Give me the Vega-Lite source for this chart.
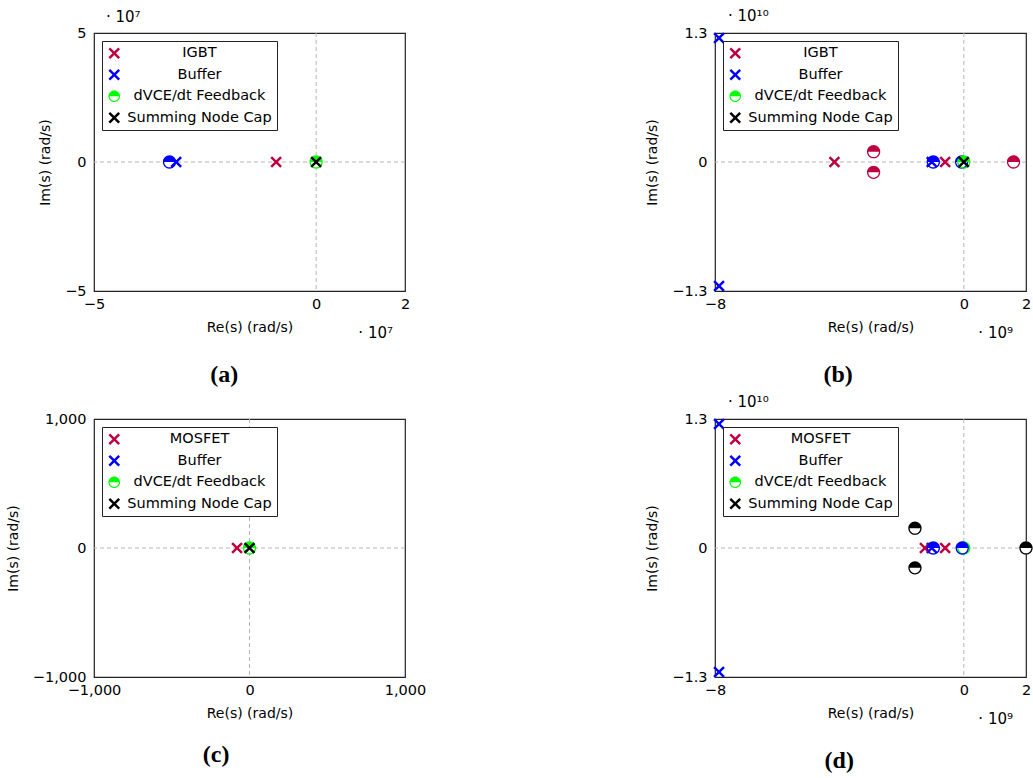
{
  "$schema": "https://vega.github.io/schema/vega-lite/v6.json",
  "background": "white",
  "padding": {"left": 5, "top": 8, "right": 5, "bottom": 5},
  "datasets": {
    "origin": [{"v": 0}],
    "pz": [
      {"panel": "a", "series": "IGBT", "kind": "pole", "re": -9.0e6, "im": 0},
      {"panel": "a", "series": "Buffer", "kind": "pole", "re": -3.15e7, "im": 0},
      {"panel": "a", "series": "Summing Node Cap", "kind": "pole", "re": 0, "im": 0},
      {"panel": "a", "series": "Buffer", "kind": "zero", "re": -3.30e7, "im": 0},
      {"panel": "a", "series": "dVCE/dt Feedback", "kind": "zero", "re": 0, "im": 0},

      {"panel": "b", "series": "Buffer", "kind": "pole", "re": -7.87e9, "im": 1.25e10},
      {"panel": "b", "series": "Buffer", "kind": "pole", "re": -7.87e9, "im": -1.25e10},
      {"panel": "b", "series": "Buffer", "kind": "pole", "re": -1.03e9, "im": 0},
      {"panel": "b", "series": "IGBT", "kind": "pole", "re": -4.16e9, "im": 0},
      {"panel": "b", "series": "IGBT", "kind": "pole", "re": -0.60e9, "im": 0},
      {"panel": "b", "series": "Summing Node Cap", "kind": "pole", "re": 0, "im": 0},
      {"panel": "b", "series": "Buffer", "kind": "zero", "re": -0.98e9, "im": 0},
      {"panel": "b", "series": "Buffer", "kind": "zero", "re": -0.07e9, "im": 0},
      {"panel": "b", "series": "dVCE/dt Feedback", "kind": "zero", "re": 0, "im": 0},
      {"panel": "b", "series": "IGBT", "kind": "zero", "re": -2.9e9, "im": 1.04e9},
      {"panel": "b", "series": "IGBT", "kind": "zero", "re": -2.9e9, "im": -1.04e9},
      {"panel": "b", "series": "IGBT", "kind": "zero", "re": 1.6e9, "im": 0},

      {"panel": "c", "series": "MOSFET", "kind": "pole", "re": -80, "im": 0},
      {"panel": "c", "series": "Summing Node Cap", "kind": "pole", "re": 0, "im": 0},
      {"panel": "c", "series": "dVCE/dt Feedback", "kind": "zero", "re": 0, "im": 0},

      {"panel": "d", "series": "Buffer", "kind": "pole", "re": -7.87e9, "im": 1.25e10},
      {"panel": "d", "series": "Buffer", "kind": "pole", "re": -7.87e9, "im": -1.25e10},
      {"panel": "d", "series": "Buffer", "kind": "pole", "re": -1.03e9, "im": 0},
      {"panel": "d", "series": "MOSFET", "kind": "pole", "re": -1.25e9, "im": 0},
      {"panel": "d", "series": "MOSFET", "kind": "pole", "re": -0.60e9, "im": 0},
      {"panel": "d", "series": "Summing Node Cap", "kind": "zero", "re": -1.57e9, "im": 2.0e9},
      {"panel": "d", "series": "Summing Node Cap", "kind": "zero", "re": -1.57e9, "im": -2.0e9},
      {"panel": "d", "series": "Summing Node Cap", "kind": "zero", "re": 2.0e9, "im": 0},
      {"panel": "d", "series": "dVCE/dt Feedback", "kind": "zero", "re": 0, "im": 0},
      {"panel": "d", "series": "Buffer", "kind": "zero", "re": -0.98e9, "im": 0},
      {"panel": "d", "series": "Buffer", "kind": "zero", "re": -0.05e9, "im": 0}
    ],
    "ann": [
      {"panel": "a", "axis": "y", "label": "· 10⁷", "re": -5e7, "im": 5e7},
      {"panel": "a", "axis": "x", "label": "· 10⁷", "re": 2e7, "im": -5e7},
      {"panel": "b", "axis": "y", "label": "· 10¹⁰", "re": -8e9, "im": 1.3e10},
      {"panel": "b", "axis": "x", "label": "· 10⁹", "re": 2e9, "im": -1.3e10},
      {"panel": "d", "axis": "y", "label": "· 10¹⁰", "re": -8e9, "im": 1.3e10},
      {"panel": "d", "axis": "x", "label": "· 10⁹", "re": 2e9, "im": -1.3e10}
    ]
  },
  "columns": 2,
  "spacing": {"column": 218, "row": 6},
  "resolve": {
    "scale": {"x": "independent", "y": "independent", "color": "independent", "shape": "independent"},
    "legend": {"color": "independent", "shape": "independent"}
  },
  "concat": [
    {
      "width": 311, "height": 258,
      "title": "(a)",
      "layer": [
        {"data": {"name": "origin"}, "mark": {"type": "rule", "color": "#b5b5b5", "strokeDash": [4, 3], "strokeWidth": 1},
         "encoding": {"x": {"field": "v", "type": "quantitative", "title": "Re(s) (rad/s)", "scale": {"domain": [-5e7, 2e7], "nice": false, "zero": false}}}},
        {"data": {"name": "origin"}, "mark": {"type": "rule", "color": "#b5b5b5", "strokeDash": [4, 3], "strokeWidth": 1},
         "encoding": {"y": {"field": "v", "type": "quantitative", "title": "Im(s) (rad/s)", "scale": {"domain": [-5e7, 5e7], "nice": false, "zero": false}}}},
        {"data": {"name": "pz"}, "transform": [{"filter": "datum.panel === 'a' && datum.kind === 'zero'"}],
         "mark": {"type": "point", "shape": "circle", "filled": true, "color": "white", "size": 170, "opacity": 1, "strokeWidth": 0},
         "encoding": {"x": {"field": "re", "type": "quantitative", "title": "Re(s) (rad/s)"}, "y": {"field": "im", "type": "quantitative", "title": "Im(s) (rad/s)"}}},
        {"data": {"name": "pz"}, "transform": [{"filter": "datum.panel === 'a' && datum.kind === 'zero'"}],
         "mark": {"type": "point", "shape": "M-1,0A1,1,0,0,1,1,0Z M1,0A1,1,0,0,1,-1,0L-0.8,0A0.8,0.8,0,0,0,0.8,0Z", "filled": true, "size": 177, "opacity": 1, "strokeWidth": 0},
         "encoding": {
           "x": {"field": "re", "type": "quantitative", "title": "Re(s) (rad/s)"},
           "y": {"field": "im", "type": "quantitative", "title": "Im(s) (rad/s)"},
           "color": {"field": "series", "type": "nominal", "legend": {"title": null}, "scale": {"domain": ["IGBT", "Buffer", "dVCE/dt Feedback", "Summing Node Cap"], "range": ["#BF0040", "#0000FF", "#00FF00", "#000000"]}}}},
        {"data": {"name": "pz"}, "transform": [{"filter": "datum.panel === 'a' && datum.kind === 'pole'"}],
         "mark": {"type": "point", "filled": true, "size": 135, "opacity": 1, "strokeWidth": 0},
         "encoding": {
           "x": {"field": "re", "type": "quantitative", "title": "Re(s) (rad/s)", "axis": {"values": [-5e7, 0, 2e7], "labelExpr": "datum.value === 0 ? '0' : format(datum.value / 1e7, 'd')"}},
           "y": {"field": "im", "type": "quantitative", "title": "Im(s) (rad/s)", "axis": {"values": [-5e7, 0, 5e7], "labelExpr": "datum.value === 0 ? '0' : format(datum.value / 1e7, 'd')"}},
           "color": {"field": "series", "type": "nominal", "legend": {"title": null}, "scale": {"domain": ["IGBT", "Buffer", "dVCE/dt Feedback", "Summing Node Cap"], "range": ["#BF0040", "#0000FF", "#00FF00", "#000000"]}},
           "shape": {"field": "series", "type": "nominal", "legend": {"title": null}, "scale": {"domain": ["IGBT", "Buffer", "dVCE/dt Feedback", "Summing Node Cap"], "range": ["M-1,-0.7L-0.7,-1L0,-0.3L0.7,-1L1,-0.7L0.3,0L1,0.7L0.7,1L0,0.3L-0.7,1L-1,0.7L-0.3,0Z", "M-1,-0.7L-0.7,-1L0,-0.3L0.7,-1L1,-0.7L0.3,0L1,0.7L0.7,1L0,0.3L-0.7,1L-1,0.7L-0.3,0Z", "M-1,0A1,1,0,0,1,1,0Z M1,0A1,1,0,0,1,-1,0L-0.8,0A0.8,0.8,0,0,0,0.8,0Z", "M-1,-0.7L-0.7,-1L0,-0.3L0.7,-1L1,-0.7L0.3,0L1,0.7L0.7,1L0,0.3L-0.7,1L-1,0.7L-0.3,0Z"]}}}},
        {"data": {"name": "ann"}, "transform": [{"filter": "datum.panel === 'a' && datum.axis === 'y'"}],
         "mark": {"type": "text", "align": "left", "baseline": "middle", "dx": 12, "dy": -16, "font": "DejaVu Sans", "fontSize": 15, "color": "black"},
         "encoding": {"x": {"field": "re", "type": "quantitative", "title": "Re(s) (rad/s)"}, "y": {"field": "im", "type": "quantitative", "title": "Im(s) (rad/s)"}, "text": {"field": "label"}}},
        {"data": {"name": "ann"}, "transform": [{"filter": "datum.panel === 'a' && datum.axis === 'x'"}],
         "mark": {"type": "text", "align": "right", "baseline": "middle", "dx": -12, "dy": 42, "font": "DejaVu Sans", "fontSize": 15, "color": "black"},
         "encoding": {"x": {"field": "re", "type": "quantitative", "title": "Re(s) (rad/s)"}, "y": {"field": "im", "type": "quantitative", "title": "Im(s) (rad/s)"}, "text": {"field": "label"}}}
      ]
    },
    {
      "width": 311, "height": 258,
      "title": "(b)",
      "layer": [
        {"data": {"name": "origin"}, "mark": {"type": "rule", "color": "#b5b5b5", "strokeDash": [4, 3], "strokeWidth": 1},
         "encoding": {"x": {"field": "v", "type": "quantitative", "title": "Re(s) (rad/s)", "scale": {"domain": [-8e9, 2e9], "nice": false, "zero": false}}}},
        {"data": {"name": "origin"}, "mark": {"type": "rule", "color": "#b5b5b5", "strokeDash": [4, 3], "strokeWidth": 1},
         "encoding": {"y": {"field": "v", "type": "quantitative", "title": "Im(s) (rad/s)", "scale": {"domain": [-1.3e10, 1.3e10], "nice": false, "zero": false}}}},
        {"data": {"name": "pz"}, "transform": [{"filter": "datum.panel === 'b' && datum.kind === 'zero'"}],
         "mark": {"type": "point", "shape": "circle", "filled": true, "color": "white", "size": 170, "opacity": 1, "strokeWidth": 0},
         "encoding": {"x": {"field": "re", "type": "quantitative", "title": "Re(s) (rad/s)"}, "y": {"field": "im", "type": "quantitative", "title": "Im(s) (rad/s)"}}},
        {"data": {"name": "pz"}, "transform": [{"filter": "datum.panel === 'b' && datum.kind === 'zero'"}],
         "mark": {"type": "point", "shape": "M-1,0A1,1,0,0,1,1,0Z M1,0A1,1,0,0,1,-1,0L-0.8,0A0.8,0.8,0,0,0,0.8,0Z", "filled": true, "size": 177, "opacity": 1, "strokeWidth": 0},
         "encoding": {
           "x": {"field": "re", "type": "quantitative", "title": "Re(s) (rad/s)"},
           "y": {"field": "im", "type": "quantitative", "title": "Im(s) (rad/s)"},
           "color": {"field": "series", "type": "nominal", "legend": {"title": null}, "scale": {"domain": ["IGBT", "Buffer", "dVCE/dt Feedback", "Summing Node Cap"], "range": ["#BF0040", "#0000FF", "#00FF00", "#000000"]}}}},
        {"data": {"name": "pz"}, "transform": [{"filter": "datum.panel === 'b' && datum.kind === 'pole'"}],
         "mark": {"type": "point", "filled": true, "size": 135, "opacity": 1, "strokeWidth": 0},
         "encoding": {
           "x": {"field": "re", "type": "quantitative", "title": "Re(s) (rad/s)", "axis": {"values": [-8e9, 0, 2e9], "labelExpr": "datum.value === 0 ? '0' : format(datum.value / 1e9, 'd')"}},
           "y": {"field": "im", "type": "quantitative", "title": "Im(s) (rad/s)", "axis": {"values": [-1.3e10, 0, 1.3e10], "labelExpr": "datum.value === 0 ? '0' : format(datum.value / 1e10, '.1f')"}},
           "color": {"field": "series", "type": "nominal", "legend": {"title": null}, "scale": {"domain": ["IGBT", "Buffer", "dVCE/dt Feedback", "Summing Node Cap"], "range": ["#BF0040", "#0000FF", "#00FF00", "#000000"]}},
           "shape": {"field": "series", "type": "nominal", "legend": {"title": null}, "scale": {"domain": ["IGBT", "Buffer", "dVCE/dt Feedback", "Summing Node Cap"], "range": ["M-1,-0.7L-0.7,-1L0,-0.3L0.7,-1L1,-0.7L0.3,0L1,0.7L0.7,1L0,0.3L-0.7,1L-1,0.7L-0.3,0Z", "M-1,-0.7L-0.7,-1L0,-0.3L0.7,-1L1,-0.7L0.3,0L1,0.7L0.7,1L0,0.3L-0.7,1L-1,0.7L-0.3,0Z", "M-1,0A1,1,0,0,1,1,0Z M1,0A1,1,0,0,1,-1,0L-0.8,0A0.8,0.8,0,0,0,0.8,0Z", "M-1,-0.7L-0.7,-1L0,-0.3L0.7,-1L1,-0.7L0.3,0L1,0.7L0.7,1L0,0.3L-0.7,1L-1,0.7L-0.3,0Z"]}}}},
        {"data": {"name": "ann"}, "transform": [{"filter": "datum.panel === 'b' && datum.axis === 'y'"}],
         "mark": {"type": "text", "align": "left", "baseline": "middle", "dx": 13, "dy": -17, "font": "DejaVu Sans", "fontSize": 15, "color": "black"},
         "encoding": {"x": {"field": "re", "type": "quantitative", "title": "Re(s) (rad/s)"}, "y": {"field": "im", "type": "quantitative", "title": "Im(s) (rad/s)"}, "text": {"field": "label"}}},
        {"data": {"name": "ann"}, "transform": [{"filter": "datum.panel === 'b' && datum.axis === 'x'"}],
         "mark": {"type": "text", "align": "right", "baseline": "middle", "dx": -13, "dy": 42, "font": "DejaVu Sans", "fontSize": 15, "color": "black"},
         "encoding": {"x": {"field": "re", "type": "quantitative", "title": "Re(s) (rad/s)"}, "y": {"field": "im", "type": "quantitative", "title": "Im(s) (rad/s)"}, "text": {"field": "label"}}}
      ]
    },
    {
      "width": 311, "height": 258,
      "title": "(c)",
      "layer": [
        {"data": {"name": "origin"}, "mark": {"type": "rule", "color": "#b5b5b5", "strokeDash": [4, 3], "strokeWidth": 1},
         "encoding": {"x": {"field": "v", "type": "quantitative", "title": "Re(s) (rad/s)", "scale": {"domain": [-1000, 1000], "nice": false, "zero": false}}}},
        {"data": {"name": "origin"}, "mark": {"type": "rule", "color": "#b5b5b5", "strokeDash": [4, 3], "strokeWidth": 1},
         "encoding": {"y": {"field": "v", "type": "quantitative", "title": "Im(s) (rad/s)", "scale": {"domain": [-1000, 1000], "nice": false, "zero": false}}}},
        {"data": {"name": "pz"}, "transform": [{"filter": "datum.panel === 'c' && datum.kind === 'zero'"}],
         "mark": {"type": "point", "shape": "circle", "filled": true, "color": "white", "size": 170, "opacity": 1, "strokeWidth": 0},
         "encoding": {"x": {"field": "re", "type": "quantitative", "title": "Re(s) (rad/s)"}, "y": {"field": "im", "type": "quantitative", "title": "Im(s) (rad/s)"}}},
        {"data": {"name": "pz"}, "transform": [{"filter": "datum.panel === 'c' && datum.kind === 'zero'"}],
         "mark": {"type": "point", "shape": "M-1,0A1,1,0,0,1,1,0Z M1,0A1,1,0,0,1,-1,0L-0.8,0A0.8,0.8,0,0,0,0.8,0Z", "filled": true, "size": 177, "opacity": 1, "strokeWidth": 0},
         "encoding": {
           "x": {"field": "re", "type": "quantitative", "title": "Re(s) (rad/s)"},
           "y": {"field": "im", "type": "quantitative", "title": "Im(s) (rad/s)"},
           "color": {"field": "series", "type": "nominal", "legend": {"title": null}, "scale": {"domain": ["MOSFET", "Buffer", "dVCE/dt Feedback", "Summing Node Cap"], "range": ["#BF0040", "#0000FF", "#00FF00", "#000000"]}}}},
        {"data": {"name": "pz"}, "transform": [{"filter": "datum.panel === 'c' && datum.kind === 'pole'"}],
         "mark": {"type": "point", "filled": true, "size": 135, "opacity": 1, "strokeWidth": 0},
         "encoding": {
           "x": {"field": "re", "type": "quantitative", "title": "Re(s) (rad/s)", "axis": {"values": [-1000, 0, 1000], "format": ",d"}},
           "y": {"field": "im", "type": "quantitative", "title": "Im(s) (rad/s)", "axis": {"values": [-1000, 0, 1000], "format": ",d"}},
           "color": {"field": "series", "type": "nominal", "legend": {"title": null}, "scale": {"domain": ["MOSFET", "Buffer", "dVCE/dt Feedback", "Summing Node Cap"], "range": ["#BF0040", "#0000FF", "#00FF00", "#000000"]}},
           "shape": {"field": "series", "type": "nominal", "legend": {"title": null}, "scale": {"domain": ["MOSFET", "Buffer", "dVCE/dt Feedback", "Summing Node Cap"], "range": ["M-1,-0.7L-0.7,-1L0,-0.3L0.7,-1L1,-0.7L0.3,0L1,0.7L0.7,1L0,0.3L-0.7,1L-1,0.7L-0.3,0Z", "M-1,-0.7L-0.7,-1L0,-0.3L0.7,-1L1,-0.7L0.3,0L1,0.7L0.7,1L0,0.3L-0.7,1L-1,0.7L-0.3,0Z", "M-1,0A1,1,0,0,1,1,0Z M1,0A1,1,0,0,1,-1,0L-0.8,0A0.8,0.8,0,0,0,0.8,0Z", "M-1,-0.7L-0.7,-1L0,-0.3L0.7,-1L1,-0.7L0.3,0L1,0.7L0.7,1L0,0.3L-0.7,1L-1,0.7L-0.3,0Z"]}}}}
      ]
    },
    {
      "width": 311, "height": 258,
      "title": "(d)",
      "layer": [
        {"data": {"name": "origin"}, "mark": {"type": "rule", "color": "#b5b5b5", "strokeDash": [4, 3], "strokeWidth": 1},
         "encoding": {"x": {"field": "v", "type": "quantitative", "title": "Re(s) (rad/s)", "scale": {"domain": [-8e9, 2e9], "nice": false, "zero": false}}}},
        {"data": {"name": "origin"}, "mark": {"type": "rule", "color": "#b5b5b5", "strokeDash": [4, 3], "strokeWidth": 1},
         "encoding": {"y": {"field": "v", "type": "quantitative", "title": "Im(s) (rad/s)", "scale": {"domain": [-1.3e10, 1.3e10], "nice": false, "zero": false}}}},
        {"data": {"name": "pz"}, "transform": [{"filter": "datum.panel === 'd' && datum.kind === 'zero'"}],
         "mark": {"type": "point", "shape": "circle", "filled": true, "color": "white", "size": 170, "opacity": 1, "strokeWidth": 0},
         "encoding": {"x": {"field": "re", "type": "quantitative", "title": "Re(s) (rad/s)"}, "y": {"field": "im", "type": "quantitative", "title": "Im(s) (rad/s)"}}},
        {"data": {"name": "pz"}, "transform": [{"filter": "datum.panel === 'd' && datum.kind === 'pole'"}],
         "mark": {"type": "point", "filled": true, "size": 135, "opacity": 1, "strokeWidth": 0},
         "encoding": {
           "x": {"field": "re", "type": "quantitative", "title": "Re(s) (rad/s)", "axis": {"values": [-8e9, 0, 2e9], "labelExpr": "datum.value === 0 ? '0' : format(datum.value / 1e9, 'd')"}},
           "y": {"field": "im", "type": "quantitative", "title": "Im(s) (rad/s)", "axis": {"values": [-1.3e10, 0, 1.3e10], "labelExpr": "datum.value === 0 ? '0' : format(datum.value / 1e10, '.1f')"}},
           "color": {"field": "series", "type": "nominal", "legend": {"title": null}, "scale": {"domain": ["MOSFET", "Buffer", "dVCE/dt Feedback", "Summing Node Cap"], "range": ["#BF0040", "#0000FF", "#00FF00", "#000000"]}},
           "shape": {"field": "series", "type": "nominal", "legend": {"title": null}, "scale": {"domain": ["MOSFET", "Buffer", "dVCE/dt Feedback", "Summing Node Cap"], "range": ["M-1,-0.7L-0.7,-1L0,-0.3L0.7,-1L1,-0.7L0.3,0L1,0.7L0.7,1L0,0.3L-0.7,1L-1,0.7L-0.3,0Z", "M-1,-0.7L-0.7,-1L0,-0.3L0.7,-1L1,-0.7L0.3,0L1,0.7L0.7,1L0,0.3L-0.7,1L-1,0.7L-0.3,0Z", "M-1,0A1,1,0,0,1,1,0Z M1,0A1,1,0,0,1,-1,0L-0.8,0A0.8,0.8,0,0,0,0.8,0Z", "M-1,-0.7L-0.7,-1L0,-0.3L0.7,-1L1,-0.7L0.3,0L1,0.7L0.7,1L0,0.3L-0.7,1L-1,0.7L-0.3,0Z"]}}}},
        {"data": {"name": "pz"}, "transform": [{"filter": "datum.panel === 'd' && datum.kind === 'zero'"}],
         "mark": {"type": "point", "shape": "M-1,0A1,1,0,0,1,1,0Z M1,0A1,1,0,0,1,-1,0L-0.8,0A0.8,0.8,0,0,0,0.8,0Z", "filled": true, "size": 177, "opacity": 1, "strokeWidth": 0},
         "encoding": {
           "x": {"field": "re", "type": "quantitative", "title": "Re(s) (rad/s)"},
           "y": {"field": "im", "type": "quantitative", "title": "Im(s) (rad/s)"},
           "color": {"field": "series", "type": "nominal", "legend": {"title": null}, "scale": {"domain": ["MOSFET", "Buffer", "dVCE/dt Feedback", "Summing Node Cap"], "range": ["#BF0040", "#0000FF", "#00FF00", "#000000"]}}}},
        {"data": {"name": "ann"}, "transform": [{"filter": "datum.panel === 'd' && datum.axis === 'y'"}],
         "mark": {"type": "text", "align": "left", "baseline": "middle", "dx": 13, "dy": -17, "font": "DejaVu Sans", "fontSize": 15, "color": "black"},
         "encoding": {"x": {"field": "re", "type": "quantitative", "title": "Re(s) (rad/s)"}, "y": {"field": "im", "type": "quantitative", "title": "Im(s) (rad/s)"}, "text": {"field": "label"}}},
        {"data": {"name": "ann"}, "transform": [{"filter": "datum.panel === 'd' && datum.axis === 'x'"}],
         "mark": {"type": "text", "align": "right", "baseline": "middle", "dx": -13, "dy": 42, "font": "DejaVu Sans", "fontSize": 15, "color": "black"},
         "encoding": {"x": {"field": "re", "type": "quantitative", "title": "Re(s) (rad/s)"}, "y": {"field": "im", "type": "quantitative", "title": "Im(s) (rad/s)"}, "text": {"field": "label"}}}
      ]
    }
  ],
  "config": {
    "view": {"stroke": "#222222", "strokeWidth": 1.2},
    "axis": {
      "grid": false, "ticks": false, "domain": false,
      "labelFont": "DejaVu Sans", "labelFontSize": 14.5, "labelColor": "black",
      "labelFlush": false, "labelOverlap": false, "labelPadding": 6,
      "titleFont": "DejaVu Sans", "titleFontSize": 14, "titleFontWeight": "normal", "titleColor": "black", "titlePadding": 10
    },
    "axisY": {"labelPadding": 8, "titlePadding": 12},
    "legend": {
      "orient": "top-left", "offset": 8,
      "strokeColor": "#222222", "fillColor": "white", "padding": 5, "rowPadding": 6.5,
      "labelFont": "DejaVu Sans", "labelFontSize": 14.5, "labelColor": "black",
      "labelAlign": "center", "labelOffset": 78, "labelLimit": 300,
      "symbolSize": 135, "symbolStrokeWidth": 0, "symbolOpacity": 1
    },
    "title": {
      "orient": "bottom", "anchor": "middle", "frame": "bounds",
      "font": "Liberation Serif", "fontSize": 24, "fontWeight": "bold", "color": "black", "offset": 22
    }
  }
}
